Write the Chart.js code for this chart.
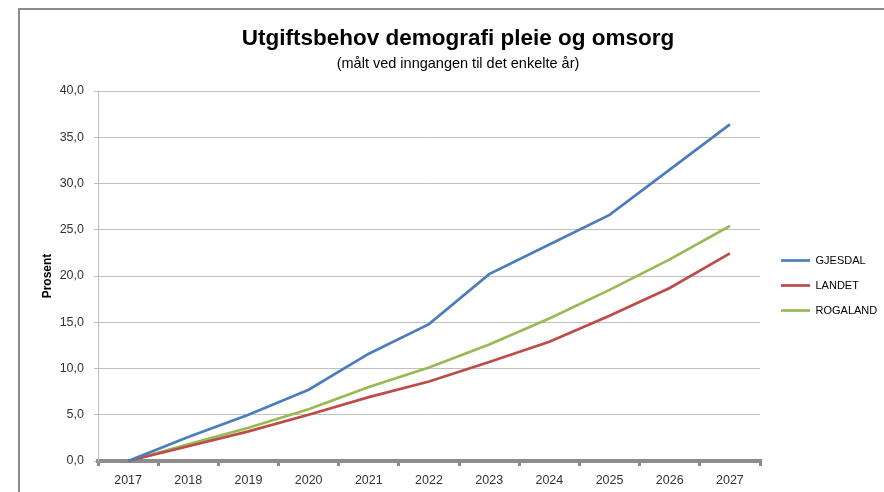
<!DOCTYPE html>
<html>
<head>
<meta charset="utf-8">
<script src="https://cdn.jsdelivr.net/npm/chart.js@4.4.1/dist/chart.umd.min.js"></script>
<style>
  html, body { margin: 0; padding: 0; background: #fff; }
  #wrap { position: relative; width: 884px; height: 492px; overflow: hidden; }
  #frame { position: absolute; left: 18px; top: 8px; width: 900px; height: 500px;
           border-left: 2px solid #8c8c8c; border-top: 2px solid #8c8c8c; pointer-events: none; }
  canvas { position: absolute; left: 0; top: 0; }
</style>
</head>
<body>
<div id="wrap">
  <canvas id="c" width="884" height="492"></canvas>
  <div id="frame"></div>
</div>
<script>
const years = ['2017','2018','2019','2020','2021','2022','2023','2024','2025','2026','2027'];
const gjesdal  = [0, 2.6, 5.0, 7.7, 11.6, 14.8, 20.2, 23.4, 26.6, 31.5, 36.4];
const landet   = [0, 1.6, 3.2, 5.0, 6.9, 8.6, 10.7, 12.9, 15.7, 18.7, 22.45];
const rogaland = [0, 1.8, 3.6, 5.6, 8.0, 10.1, 12.6, 15.4, 18.5, 21.8, 25.4];
const seriesNames = ['GJESDAL', 'LANDET', 'ROGALAND'];
const seriesColors = ['#4a7ebb', '#be4b48', '#98b954'];
const titleText = 'Utgiftsbehov demografi pleie og omsorg';
const subtitleText = '(målt ved inngangen til det enkelte år)';
const yTitleText = 'Prosent';

Chart.defaults.font.family = "'Liberation Sans', Arial, sans-serif";

const seriesData = [gjesdal, landet, rogaland];
const datasets = seriesData.map((d, i) => ({
  label: seriesNames[i],
  data: d,
  borderColor: seriesColors[i],
  backgroundColor: seriesColors[i],
  borderWidth: 2.7,
  pointRadius: 0,
  pointHoverRadius: 0,
  tension: 0,
  clip: 4
}));

new Chart(document.getElementById('c'), {
  type: 'line',
  data: { labels: years, datasets },
  options: {
    responsive: false,
    animation: false,
    devicePixelRatio: 1,
    layout: { padding: { left: 32, right: 0, top: 0, bottom: 0 } },
    plugins: {
      title: {
        display: true, text: titleText, color: '#000',
        font: { size: 22.5, weight: 'bold' },
        padding: { top: 25, bottom: 0 }
      },
      subtitle: {
        display: true, text: subtitleText, color: '#000',
        font: { size: 14.5 },
        padding: { top: 2.8, bottom: 18.8 }
      },
      legend: {
        position: 'right',
        align: 'center',
        fullSize: false,
        maxWidth: 117,
        title: { display: true, text: ' ', font: { size: 12 }, padding: { top: 4.6, bottom: 0 } },
        labels: {
          usePointStyle: true, pointStyle: 'line', pointStyleWidth: 29,
          padding: 14, color: '#000', font: { size: 11 }
        }
      },
      tooltip: { enabled: false }
    },
    scales: {
      x: {
        offset: true,
        grid: { offset: true, display: true, drawOnChartArea: false, drawTicks: true,
                tickLength: 5, color: '#8c8c8c', lineWidth: 3 },
        border: { display: true, color: '#8c8c8c', width: 4 },
        ticks: { color: '#333', font: { size: 12.5 }, padding: 7, maxRotation: 0, autoSkip: false },
        afterFit(s) { s.height = 31; }
      },
      y: {
        min: 0, max: 40,
        ticks: { stepSize: 5, color: '#333', font: { size: 12.5 }, padding: 10,
                 callback: v => v.toFixed(1).replace('.', ',') },
        grid: { color: '#bfbfbf', tickLength: 4 },
        border: { color: '#bfbfbf' },
        title: { display: true, text: yTitleText, color: '#000',
                 font: { size: 12, weight: 'bold' }, padding: { top: 8, bottom: 0 } },
        afterFit(s) { s.width = 66; }
      },
      y2: {
        position: 'right', display: true,
        grid: { display: false }, ticks: { display: false }, border: { display: false },
        afterFit(s) { s.width = 7; }
      }
    }
  }
});
</script>
</body>
</html>
